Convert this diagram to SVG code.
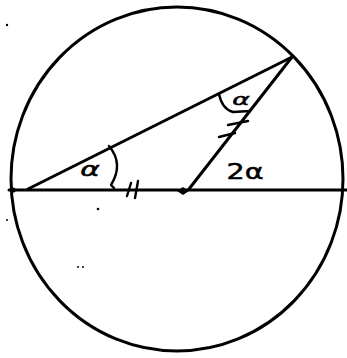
<svg xmlns="http://www.w3.org/2000/svg" width="347" height="358" viewBox="0 0 347 358">
<style>
.ln{fill:none;stroke:#000;stroke-width:3;stroke-linecap:round;stroke-linejoin:round}
.thin{fill:none;stroke:#000;stroke-width:2.4;stroke-linecap:round;stroke-linejoin:round}
.lbl{font-family:"DejaVu Sans","Liberation Sans",sans-serif;fill:#000;stroke:#000;stroke-width:0.6}
</style>
<rect width="347" height="358" fill="#fff"/>
<g id="circle">
<ellipse cx="177" cy="179" rx="166" ry="172" class="ln" stroke-width="3.4"/>
</g>
<g id="connectors">
<line id="diameter" x1="9" y1="190" x2="347" y2="190" class="ln" stroke-width="3.2"/>
<line id="chord" x1="28" y1="189" x2="292" y2="57" class="ln"/>
<line id="radius" x1="189" y1="189" x2="292" y2="57" class="ln"/>
</g>
<g id="center">
<path d="M177 191 L183 187 L189 191 L183 195 Z" fill="#000"/>
<circle cx="13" cy="190" r="2.6" fill="#000"/>
</g>
<g id="angle-left">
<path d="M109 146 Q124 164 111 185 L114 188" class="thin"/>
<text class="lbl" font-size="22" text-anchor="middle" font-style="italic" transform="translate(90,176) scale(1.35,0.85)">α</text>
</g>
<g id="angle-top">
<path d="M219 94 Q222 109 233 112 L250 111" class="thin"/>
<text class="lbl" font-size="19" text-anchor="middle" font-style="italic" transform="translate(241,105) scale(1.4,0.8)">α</text>
</g>
<g id="angle-center">
<text class="lbl" font-size="26" text-anchor="middle" transform="translate(245,179) scale(1.1,0.85)">2α</text>
</g>
<g id="ticks">
<line x1="131" y1="183" x2="127" y2="196" class="thin"/>
<line x1="138" y1="181" x2="135" y2="198" class="thin"/>
<line x1="228" y1="125" x2="248" y2="121" class="thin"/>
<line x1="219" y1="137" x2="235" y2="133" class="thin"/>
</g>
<g id="specks" fill="#000">
<circle cx="7" cy="25" r="1.2"/>
<circle cx="98" cy="209" r="1.3"/>
<circle cx="78" cy="267" r="1"/>
<circle cx="83" cy="267" r="1"/>
<circle cx="7" cy="220" r="1"/>
</g>
</svg>
